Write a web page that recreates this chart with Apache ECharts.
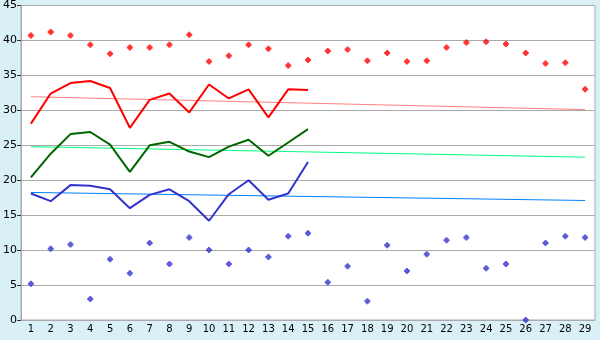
<!DOCTYPE html>
<html>
<head>
<meta charset="utf-8">
<script src="https://cdn.jsdelivr.net/npm/echarts@6/dist/echarts.min.js"></script>
<style>
html,body{margin:0;padding:0;background:#d9f0f7;}
#c{width:600px;height:340px;}
</style>
</head>
<body>
<div id="c"></div>
<script>
const days = ['1','2','3','4','5','6','7','8','9','10','11','12','13','14','15','16','17','18','19','20','21','22','23','24','25','26','27','28','29'];
const highPoints = [40.7,41.2,40.7,39.4,38.1,39.0,39.0,39.4,40.8,37.0,37.8,39.4,38.8,36.4,37.2,38.5,38.7,37.1,38.2,37.0,37.1,39.0,39.7,39.8,39.5,38.2,36.7,36.8,33.0];
const lowPoints = [5.2,10.2,10.8,3.0,8.7,6.7,11.0,8.0,11.8,10.0,8.0,10.0,9.0,12.0,12.4,5.4,7.7,2.7,10.7,7.0,9.4,11.4,11.8,7.4,8.0,0.0,11.0,12.0,11.8];
const redLine = [28.1,32.4,33.9,34.2,33.2,27.5,31.5,32.4,29.7,33.7,31.7,33.0,29.0,33.0,32.9];
const greenLine = [20.4,23.8,26.6,26.9,25.1,21.2,25.0,25.5,24.1,23.3,24.8,25.8,23.5,25.4,27.3];
const blueLine = [18.1,17.0,19.3,19.2,18.7,16.0,17.9,18.7,17.0,14.2,18.0,20.0,17.2,18.1,22.6];
const redTrend = [31.95, 30.1];
const greenTrend = [24.8, 23.3];
const blueTrend = [18.25, 17.1];
const yTicks = {min:0, max:45, interval:5};

const last = days.length - 1;
const mk = 'path://M2,0H4V1H5V2H6V4H5V5H4V6H2V5H1V4H0V2H1V1H2Z';
const chart = echarts.init(document.getElementById('c'), null, {renderer:'canvas'});
const lineS = (data, color, w, z) => ({type:'line', data, showSymbol:false, symbol:'none', lineStyle:{color, width:w}, itemStyle:{color}, z, animation:false});
const trendS = (t, color) => ({type:'line', data:[[0,t[0]],[last,t[1]]], symbol:'none', lineStyle:{color, width:1}, z:2, animation:false});
chart.setOption({
  backgroundColor:'#d9f0f7',
  animation:false,
  grid:{left:21, right:5, top:5, bottom:20, show:true, backgroundColor:'#ffffff', borderColor:'#aaaaaa', borderWidth:1},
  xAxis:{type:'category', data:days, boundaryGap:true,
    axisLine:{lineStyle:{color:'#aaaaaa'}},
    axisTick:{alignWithLabel:true, length:4, lineStyle:{color:'#333'}},
    axisLabel:{color:'#000', fontFamily:'DejaVu Sans', fontSize:10, margin:4, interval:0},
    splitLine:{show:false}},
  yAxis:{type:'value', min:yTicks.min, max:yTicks.max, interval:yTicks.interval,
    axisLine:{show:true, lineStyle:{color:'#aaaaaa'}},
    axisTick:{show:true, length:4, lineStyle:{color:'#333'}},
    axisLabel:{color:'#000', fontFamily:'DejaVu Sans', fontSize:11, margin:4},
    splitLine:{lineStyle:{color:'#aaaaaa'}}},
  series:[
    trendS(redTrend,'#ff8080'),
    trendS(greenTrend,'#00ff80'),
    trendS(blueTrend,'#0080ff'),
    lineS(redLine,'#ff0000',2,3),
    lineS(greenLine,'#006600',2,3),
    lineS(blueLine,'#3333cc',2,3),
    {type:'scatter', data:highPoints, symbol:mk, symbolSize:6, itemStyle:{color:'#ff0000'}, z:4},
    {type:'scatter', data:lowPoints, symbol:mk, symbolSize:6, itemStyle:{color:'#3333cc'}, z:4}
  ]
});
</script>
</body>
</html>
